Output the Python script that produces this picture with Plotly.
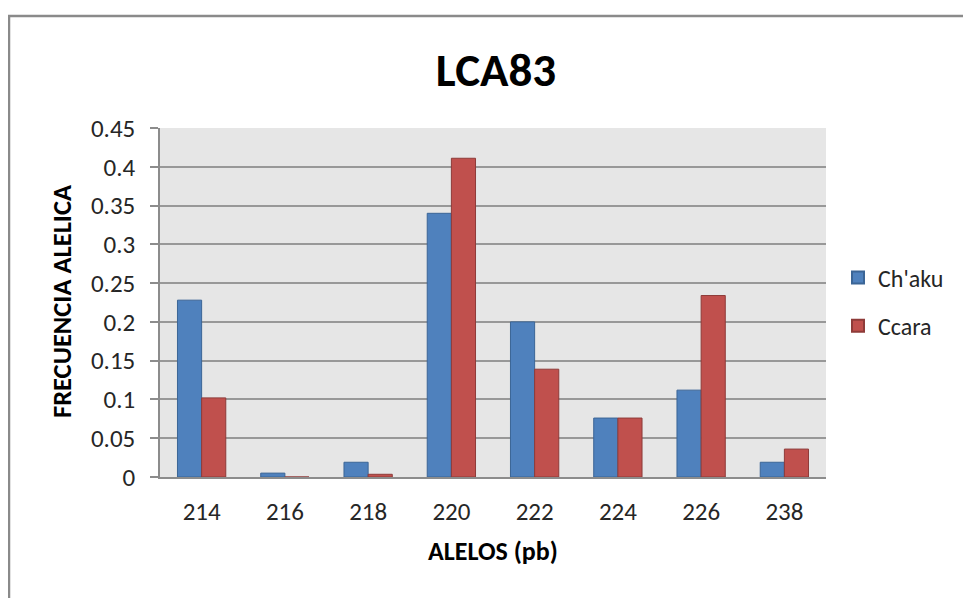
import plotly.graph_objects as go

alleles = ["214", "216", "218", "220", "222", "224", "226", "238"]
chaku = [0.228, 0.005, 0.019, 0.340, 0.200, 0.076, 0.112, 0.019]
ccara = [0.102, 0.0, 0.0035, 0.411, 0.139, 0.076, 0.234, 0.036]
y_ticks = [0, 0.05, 0.1, 0.15, 0.2, 0.25, 0.3, 0.35, 0.4, 0.45]
y_tick_text = ["0", "0.05", "0.1", "0.15", "0.2", "0.25", "0.3", "0.35", "0.4", "0.45"]

FONT = "Carlito, Calibri, Lato, 'Open Sans', sans-serif"

# the page body adds an 8px offset; positions below are target pixel positions minus 8
OFF = 8
W, H = 971, 598
L, T = 160 - OFF, 128 - OFF
PR, PB = 826 - OFF, 477 - OFF
R, B = W - PR, H - PB
pw, ph = PR - L, PB - T

def px(x):
    return (x - OFF - L) / pw

def py(y):
    return (PB - (y - OFF)) / ph

fig = go.Figure()
fig.add_trace(go.Bar(x=alleles, y=chaku, name="Ch'aku", legendgroup="a",
                     marker=dict(color="#4F81BD", line=dict(color="#3B6596", width=1))))
fig.add_trace(go.Bar(x=alleles, y=ccara, name="Ccara", legendgroup="b",
                     marker=dict(color="#C0504D", line=dict(color="#8E3B39", width=1))))

fig.update_layout(
    width=W, height=H,
    margin=dict(l=L, r=R, t=T, b=B, autoexpand=False),
    paper_bgcolor="white",
    plot_bgcolor="#E6E6E6",
    barmode="group",
    bargap=0.42,
    bargroupgap=0,
    font=dict(family=FONT, size=25, color="#262626"),
    title=dict(text="<b>LCA83</b>", x=(496 - OFF) / W, xanchor="center",
               y=1 - (70 - OFF) / H, yanchor="middle",
               font=dict(family=FONT, size=47, color="black")),
    xaxis=dict(
        showgrid=False, showline=True, linecolor="#8C8C8C", linewidth=1.5,
        ticks="outside", ticklen=11, tickcolor="rgba(0,0,0,0)",
        tickfont=dict(size=25, color="#262626"),
    ),
    yaxis=dict(
        range=[0, 0.45], tickvals=y_ticks, ticktext=y_tick_text,
        showgrid=True, gridcolor="#989898", gridwidth=1.5,
        showline=True, linecolor="#8C8C8C", linewidth=1.5,
        ticks="outside", ticklen=8, tickcolor="#8C8C8C", tickwidth=1.5,
        ticklabelstandoff=10,
        tickfont=dict(size=25, color="#262626"),
        zeroline=False,
    ),
    annotations=[
        dict(text="<b>ALELOS (pb)</b>", xref="paper", yref="paper",
             x=px(493), y=py(551), xanchor="center", yanchor="middle",
             showarrow=False, font=dict(size=26, color="black")),
        dict(text="<b>FRECUENCIA ALELICA</b>", xref="paper", yref="paper",
             x=px(62), y=py(301), xanchor="center", yanchor="middle",
             textangle=-90, showarrow=False, font=dict(size=26.5, color="black")),
    ],
    legend=dict(
        x=px(838), xanchor="left",
        y=py(302), yanchor="middle",
        font=dict(size=24, color="#262626"),
        bgcolor="rgba(0,0,0,0)",
        tracegroupgap=14, itemsizing="constant",
    ),
    shapes=[dict(type="rect", xref="paper", yref="paper",
                 x0=px(9), x1=1.5, y0=-1.0, y1=py(16),
                 line=dict(color="#8A8A8A", width=2.5), fillcolor="rgba(0,0,0,0)",
                 layer="below")],
)

fig.write_html("out.html")
